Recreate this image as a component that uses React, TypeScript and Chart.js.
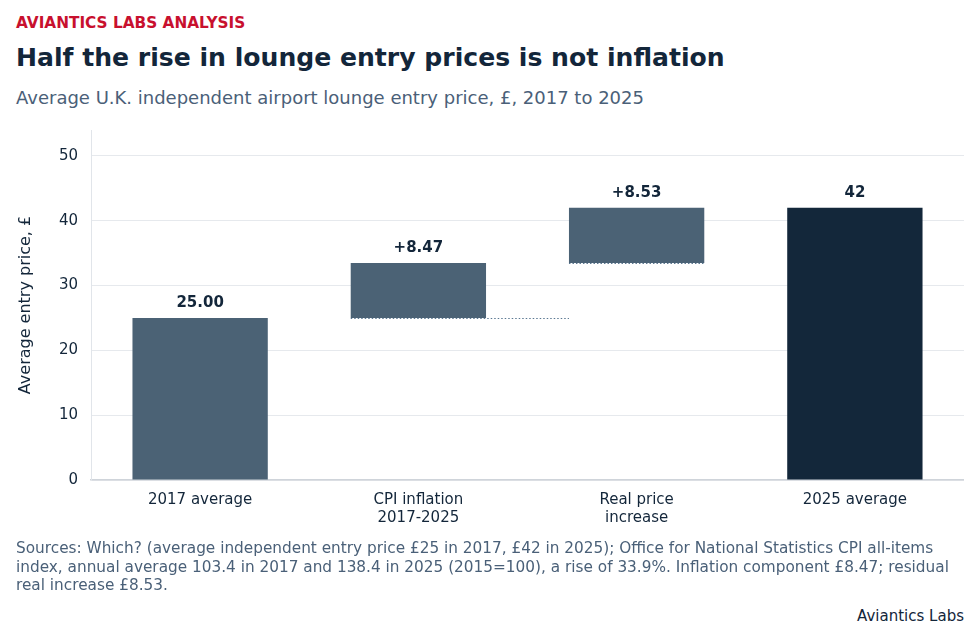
import { useEffect, useRef } from "react";
import { Chart, registerables } from "chart.js";

Chart.register(...registerables);

// Chart data
const categories: (string | string[])[] = [
  "2017 average",
  ["CPI inflation", "2017-2025"],
  ["Real price", "increase"],
  "2025 average",
];
const startValue = 25.0;
const stepValues = [8.47, 8.53];
const endValue = 42;
const barLabels = ["25.00", "+8.47", "+8.53", "42"];
const yTicks = [0, 10, 20, 30, 40, 50];

const FONT = "'DejaVu Sans', Verdana, sans-serif";
const SLATE = "#4b6275";
const NAVY = "#13273a";
const INK = "#13263a";
const MUTED = "#4a6078";

// floating bar ranges built from the values above
function buildRanges(): [number, number][] {
  const ranges: [number, number][] = [[0, startValue]];
  let base = startValue;
  stepValues.forEach((v) => {
    ranges.push([base, base + v]);
    base += v;
  });
  ranges.push([0, endValue]);
  return ranges;
}

const waterfallExtras = {
  id: "waterfallExtras",
  afterDatasetsDraw(chart: Chart) {
    const ctx = chart.ctx;
    const meta = chart.getDatasetMeta(0);
    const ranges = buildRanges();
    const y = chart.scales.y;

    // dotted connectors at the base of the step bars
    ctx.save();
    ctx.strokeStyle = "#5b7892";
    ctx.lineWidth = 1.2;
    ctx.setLineDash([1.5, 2]);
    const bars = meta.data as any[];
    const half = (b: any) => b.width / 2;
    const b1 = bars[1];
    const b2 = bars[2];
    const y1 = Math.round(y.getPixelForValue(ranges[1][0])) + 0.5;
    ctx.beginPath();
    ctx.moveTo(b1.x - half(b1), y1);
    ctx.lineTo(b2.x - half(b2), y1);
    ctx.stroke();
    const y2 = Math.round(y.getPixelForValue(ranges[2][0])) + 0.5;
    ctx.beginPath();
    ctx.moveTo(b2.x - half(b2), y2);
    ctx.lineTo(b2.x + half(b2), y2);
    ctx.stroke();
    ctx.restore();

    // value labels above bars
    ctx.save();
    ctx.font = `bold 15px ${FONT}`;
    ctx.fillStyle = INK;
    ctx.textAlign = "center";
    ctx.textBaseline = "bottom";
    bars.forEach((bar, i) => {
      const top = y.getPixelForValue(ranges[i][1]);
      ctx.fillText(barLabels[i], bar.x, top - 7);
    });
    ctx.restore();
  },
};

const App = () => {
  const canvasRef = useRef<HTMLCanvasElement>(null);
  const chartRef = useRef<Chart | null>(null);

  useEffect(() => {
    document.body.style.margin = "0";
    if (!canvasRef.current) return;
    const ctx = canvasRef.current.getContext("2d");
    if (!ctx) return;

    chartRef.current = new Chart(ctx, {
      type: "bar",
      data: {
        labels: categories,
        datasets: [
          {
            data: buildRanges() as any,
            backgroundColor: [SLATE, SLATE, SLATE, NAVY],
            borderWidth: 0,
            borderSkipped: false,
            barPercentage: 0.62,
            categoryPercentage: 1,
          },
        ],
      },
      options: {
        animation: false,
        responsive: true,
        maintainAspectRatio: false,
        layout: { padding: { top: 0 } },
        plugins: {
          legend: { display: false },
          tooltip: { enabled: false },
        },
        scales: {
          x: {
            grid: { display: false, drawTicks: false },
            border: { color: "#cfd4da", width: 1.5 },
            ticks: {
              color: INK,
              padding: 11,
              font: { family: FONT, size: 15 },
              maxRotation: 0,
            },
            afterFit: (s: any) => {
              s.height = 60;
            },
          },
          y: {
            min: 0,
            max: 54,
            afterBuildTicks: (s: any) => {
              s.ticks = yTicks.map((v) => ({ value: v }));
            },
            grid: { color: "#e6e9ed", drawTicks: false },
            border: { color: "#e1e5ea" },
            ticks: {
              color: INK,
              padding: 13,
              font: { family: FONT, size: 15 },
            },
            title: {
              display: true,
              text: "Average entry price, £",
              color: INK,
              font: { family: FONT, size: 16 },
              padding: { top: 0, bottom: 0 },
            },
            afterFit: (s: any) => {
              s.width = 75;
            },
          },
        },
      },
      plugins: [waterfallExtras],
    });

    return () => {
      if (chartRef.current) {
        chartRef.current.destroy();
        chartRef.current = null;
      }
    };
  }, []);

  return (
    <div
      style={{
        position: "relative",
        width: 980,
        height: 640,
        background: "#ffffff",
        fontFamily: FONT,
        overflow: "hidden",
      }}
    >
      <div
        style={{
          position: "absolute",
          left: 16,
          top: 13,
          fontSize: 15.3,
          fontWeight: "bold",
          color: "#c8102e",
          lineHeight: "20px",
        }}
      >
        AVIANTICS LABS ANALYSIS
      </div>
      <div
        style={{
          position: "absolute",
          left: 16,
          top: 42,
          fontSize: 25.1,
          fontWeight: "bold",
          color: INK,
          lineHeight: "32px",
        }}
      >
        Half the rise in lounge entry prices is not inflation
      </div>
      <div
        style={{
          position: "absolute",
          left: 16,
          top: 86,
          fontSize: 18,
          color: MUTED,
          lineHeight: "24px",
        }}
      >
        Average U.K. independent airport lounge entry price, £, 2017 to 2025
      </div>
      <div
        style={{
          position: "absolute",
          left: 16,
          top: 108,
          width: 948,
          height: 432,
        }}
      >
        <canvas ref={canvasRef} />
      </div>
      <div
        style={{
          position: "absolute",
          left: 16,
          top: 539,
          width: 948,
          fontSize: 15.3,
          color: MUTED,
          lineHeight: "18.5px",
        }}
      >
        Sources: Which? (average independent entry price £25 in 2017, £42 in
        2025); Office for National Statistics CPI all-items index, annual
        average 103.4 in 2017 and 138.4 in 2025 (2015=100), a rise of 33.9%.
        Inflation component £8.47; residual real increase £8.53.
      </div>
      <div
        style={{
          position: "absolute",
          right: 16,
          top: 606,
          fontSize: 15,
          color: INK,
          lineHeight: "20px",
        }}
      >
        Aviantics Labs
      </div>
    </div>
  );
};

export default App;
